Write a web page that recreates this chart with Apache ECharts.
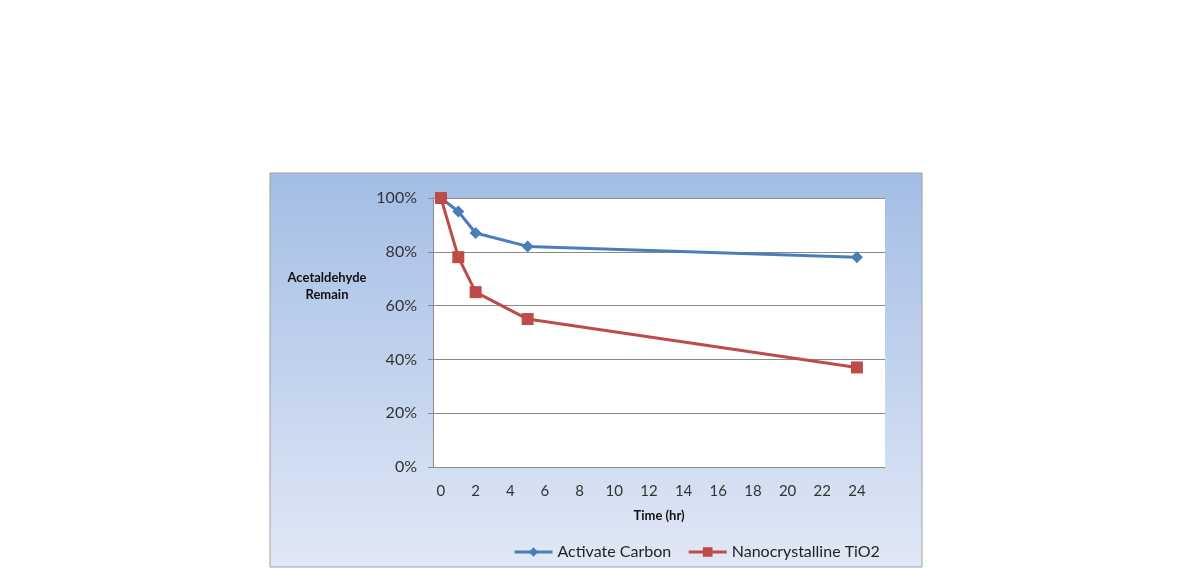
<!DOCTYPE html>
<html>
<head>
<meta charset="utf-8">
<script src="https://cdn.jsdelivr.net/npm/echarts@6/dist/echarts.min.js"></script>
<style>html,body{margin:0;padding:0;background:#fff;}#c{width:1190px;height:577px;}</style>
</head>
<body>
<div id="c"></div>
<script>
const timeHr = [0, 1, 2, 5, 24];
const activateCarbon = [100, 95, 87, 82, 78];
const nanoTiO2 = [100, 78, 65, 55, 37];
const xTickLabels = [0, 2, 4, 6, 8, 10, 12, 14, 16, 18, 20, 22, 24];
const seriesNames = ['Activate Carbon', 'Nanocrystalline TiO2'];

const chart = echarts.init(document.getElementById('c'), null, {renderer: 'canvas'});
const font = 'Lato, "Open Sans", sans-serif';
chart.setOption({
  animation: false,
  backgroundColor: '#ffffff',
  graphic: [
    {type: 'rect', z: -10, shape: {x: 270, y: 173, width: 652, height: 394},
     style: {fill: new echarts.graphic.LinearGradient(0, 0, 0, 1, [
        {offset: 0, color: '#a3bde6'}, {offset: 1, color: '#e1e8f5'}]),
        stroke: '#a0a0a0', lineWidth: 1}},
    {type: 'text', x: 327, y: 286, z: 10,
     style: {text: 'Acetaldehyde\nRemain', fontFamily: font, fontWeight: 'bold', fontSize: 13,
       fill: '#111', align: 'center', verticalAlign: 'middle', lineHeight: 17}}
  ],
  grid: {left: 433, right: 305, top: 198, bottom: 110, show: true, backgroundColor: '#ffffff', borderWidth: 0, borderColor: 'transparent'},
  legend: {
    left: 508, top: 539, itemGap: 16, itemWidth: 38, itemHeight: 12,
    lineStyle: {width: 3},
    textStyle: {fontFamily: font, fontSize: 16, color: '#222'},
    data: seriesNames
  },
  xAxis: {
    type: 'value', min: -0.46, max: 25.62,
    name: 'Time (hr)', nameLocation: 'middle', nameGap: 42,
    nameTextStyle: {fontFamily: font, fontWeight: 'bold', fontSize: 13, color: '#111'},
    axisLine: {show: true, onZero: false, lineStyle: {color: '#8a8a8a', width: 1}},
    axisTick: {show: false},
    splitLine: {show: false},
    axisLabel: {customValues: xTickLabels, fontFamily: font, fontSize: 15, color: '#333', margin: 17}
  },
  yAxis: {
    type: 'value', min: 0, max: 100, interval: 20,
    axisLine: {show: true, onZero: false, lineStyle: {color: '#8a8a8a', width: 1}},
    axisTick: {show: true, inside: false, length: 5, lineStyle: {color: '#8a8a8a'}},
    splitLine: {show: true, lineStyle: {color: '#8a8a8a', width: 1}},
    axisLabel: {formatter: '{value}%', fontFamily: font, fontSize: 16, color: '#333', margin: 16}
  },
  series: [
    {name: seriesNames[0], type: 'line', data: timeHr.map((t, i) => [t, activateCarbon[i]]),
     symbol: 'diamond', symbolSize: 12, lineStyle: {width: 3, color: '#4a7ebb'},
     itemStyle: {color: '#4a7ebb'}, z: 3},
    {name: seriesNames[1], type: 'line', data: timeHr.map((t, i) => [t, nanoTiO2[i]]),
     symbol: 'rect', symbolSize: 12, lineStyle: {width: 3, color: '#be4b48'},
     itemStyle: {color: '#be4b48'}, z: 4}
  ]
});
</script>
</body>
</html>
